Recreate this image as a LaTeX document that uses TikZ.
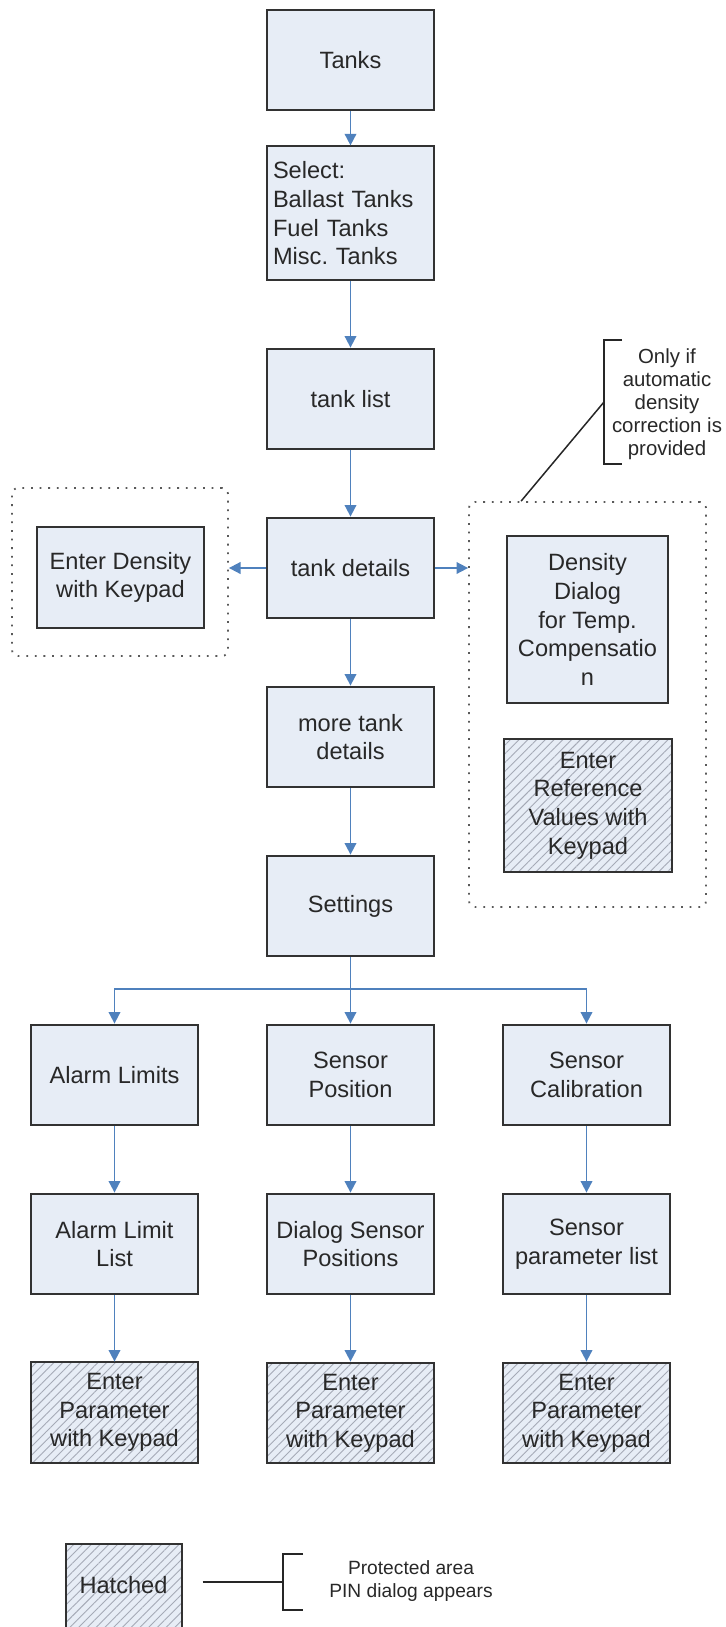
\documentclass[tikz,border=0pt]{standalone}
\usepackage{fontspec}
\setmainfont{Liberation Sans}
\usepackage{tikz}
\usetikzlibrary{calc,positioning,arrows.meta,patterns.meta}
\frenchspacing

\definecolor{boxfill}{RGB}{231,237,246}
\definecolor{boxline}{RGB}{50,50,50}
\definecolor{flowblue}{RGB}{79,129,189}
\definecolor{hatchgray}{RGB}{165,170,182}
\definecolor{textgray}{RGB}{40,40,40}

\tikzset{
    screen/.style={draw=boxline, line width=1pt, fill=boxfill, minimum width=83.5pt, minimum height=50.4pt,
        inner sep=2pt, align=center, text=textgray, font=\fontsize{11.8}{14.3}\selectfont},
    protected/.style={screen, preaction={fill=boxfill},
        pattern={Lines[angle=45,distance=3.1pt,line width=0.45pt]}, pattern color=hatchgray},
    group/.style={draw=black!65, line width=0.9pt, dash pattern=on 0.9pt off 3.4pt, rounded corners=3pt, inner sep=0pt},
    flow/.style={->, draw=flowblue, line width=0.9pt},
    brace/.style={draw=black!85, line width=0.75pt},
    note/.style={align=center, text=textgray, font=\fontsize{10.2}{11.5}\selectfont},
}

\begin{document}
\begin{tikzpicture}[x=0.5pt,y=-0.5pt,node distance=33.1pt,>={Triangle[length=5.8pt,width=5.8pt]}]
    \useasboundingbox (0,0) rectangle (725,1627);
    \clip (0,0) rectangle (725,1627);
    %
    \node[screen] (tanks) at (350.5,60) {Tanks};
    \node[screen, below=17pt of tanks, minimum height=67pt, text width=77.5pt, align=left] (select) {Select:\\Ballast Tanks\\Fuel Tanks\\Misc. Tanks};
    \node[screen, below=of select] (tanklist) {tank list};
    \node[screen, below=of tanklist] (details) {tank details};
    \node[screen, below=of details] (moredetails) {more tank\\details};
    \node[screen, below=of moredetails] (settings) {Settings};
    %
    \node[screen, below=of settings] (sensorpos) {Sensor\\Position};
    \node[screen, left=33.5pt of sensorpos] (alarm) {Alarm Limits};
    \node[screen, right=33.5pt of sensorpos] (sensorcal) {Sensor\\Calibration};
    \node[screen, below=of alarm] (alarmlist) {Alarm Limit\\List};
    \node[screen, below=of sensorpos] (posdialog) {Dialog Sensor\\Positions};
    \node[screen, below=of sensorcal] (paramlist) {Sensor\\parameter list};
    \node[protected, below=of alarmlist] (alarmkey) {Enter\\Parameter\\with Keypad};
    \node[protected, below=of posdialog] (poskey) {Enter\\Parameter\\with Keypad};
    \node[protected, below=of paramlist] (calkey) {Enter\\Parameter\\with Keypad};
    %
    % density input on both sides of the details screen
    \node[screen, left=30.5pt of details, yshift=-4.75pt] (density) {Enter Density\\with Keypad};
    \node[group, minimum width=108pt, minimum height=84pt] (leftgroup) at (120,572) {};
    \node[screen, minimum width=80.5pt, minimum height=83.5pt] (densdialog) at (587.5,619.5) {Density\\Dialog\\for Temp.\\Compensatio\\n};
    \node[protected, minimum width=84pt, minimum height=66.5pt] (refvalues) at (588,805.5) {Enter\\Reference\\Values with\\Keypad};
    \node[group, minimum width=118.5pt, minimum height=202.5pt] (rightgroup) at (587.5,704.5) {};
    %
    \draw[flow] (tanks) -- (select);
    \draw[flow] (select) -- (tanklist);
    \draw[flow] (tanklist) -- (details);
    \draw[flow] (details) -- (moredetails);
    \draw[flow] (moredetails) -- (settings);
    \draw[flow] (details.west) -- (details.west -| leftgroup.east);
    \draw[flow] (details.east) -- (details.east -| rightgroup.west);
    %
    \coordinate (branch) at ($(settings.south)!0.48!(sensorpos.north)$);
    \draw[flow] (settings) -- (sensorpos);
    \draw[flow] (branch) -| (alarm);
    \draw[flow] (branch) -| (sensorcal);
    \draw[flow] (alarm) -- (alarmlist);
    \draw[flow] (sensorpos) -- (posdialog);
    \draw[flow] (sensorcal) -- (paramlist);
    \draw[flow] (alarmlist) -- (alarmkey);
    \draw[flow] (posdialog) -- (poskey);
    \draw[flow] (paramlist) -- (calkey);
    %
    \node[note] (densnote) at (667,404) {Only if\\automatic\\density\\correction is\\provided};
    \coordinate (notebrace) at (604,402);
    \draw[brace] ($(notebrace)+(18,-62)$) -- ++(-18,0) -- ++(0,124) -- ++(18,0);
    \draw[brace] (notebrace) -- ([xshift=26.5pt]rightgroup.north west);
    %
    % legend
    \node[protected, minimum width=58pt, text height=22.5pt, text depth=30pt, below=40pt of alarmkey, xshift=4.5pt] (legendbox) {Hatched};
    \node[note, font=\fontsize{9.6}{11.5}\selectfont] (legendnote) at (411,1581.5) {Protected area\\PIN dialog appears};
    \coordinate (pinbrace) at (283,1582);
    \draw[brace, shorten <=10pt] (pinbrace -| legendbox.east) -- (pinbrace);
    \draw[brace] ($(pinbrace)+(20,-28)$) -- ++(-20,0) -- ++(0,56) -- ++(20,0);
\end{tikzpicture}
\end{document}
